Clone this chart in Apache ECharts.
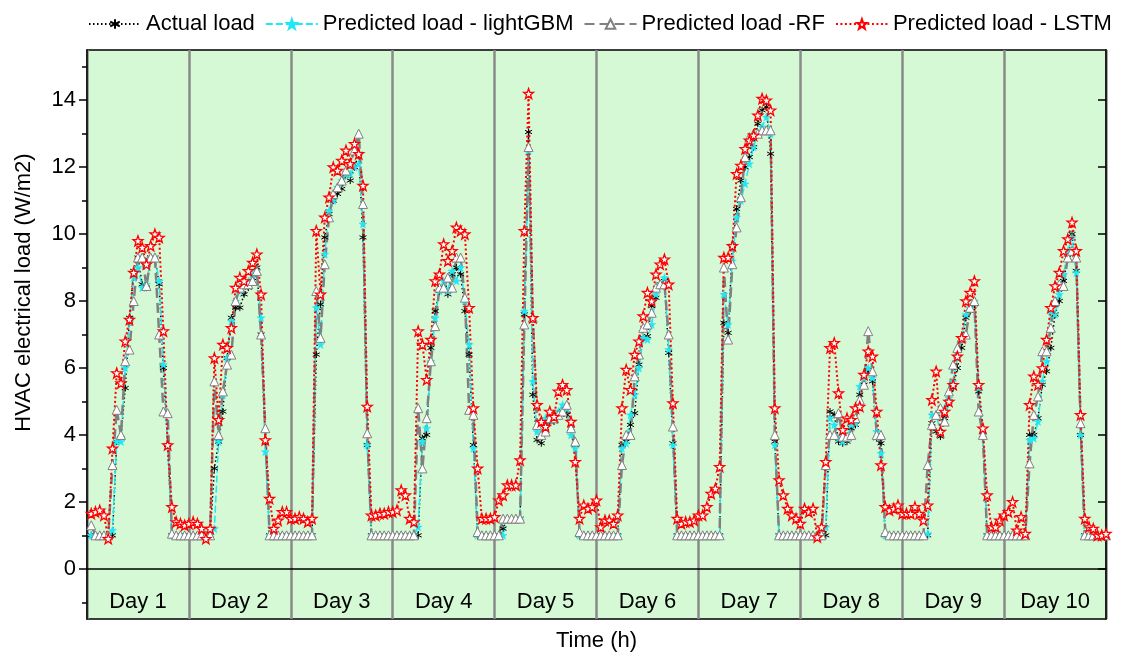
<!DOCTYPE html>
<html>
<head>
<meta charset="utf-8">
<script src="https://cdn.jsdelivr.net/npm/echarts@6/dist/echarts.min.js"></script>
<style>
html,body{margin:0;padding:0;background:#fff;}
#chart{width:1126px;height:657px;}
</style>
</head>
<body>
<div id="chart"></div>
<script>
// ---- data (hourly, 10 days x 24 h) ----
var dayLabels = ['Day 1','Day 2','Day 3','Day 4','Day 5','Day 6','Day 7','Day 8','Day 9','Day 10'];
var yMajorTicks = [0,2,4,6,8,10,12,14];
var yMinorTicks = [-1,1,3,5,7,9,11,13,15];

var actualLoad = [
1,1,1,1,1,1.0, 3.8,3.9,5.4,7.5,8.9,9.3, 8.5,8.4,9.3,9.3,8.5,6.0, 3.7,1,1,1,1,1,
1,1,1,1,1,3.0, 3.8,4.7,6.3,7.5,7.8,7.8, 8.2,8.4,8.6,9.0,7.0,3.8, 1,1,1,1,1,1,
1,1,1,1,1,6.4, 7.9,9.9,10.6,11.0,11.2,11.35, 11.8,11.6,12.0,12.4,9.9,3.7, 1,1,1,1,1,1,
1,1,1,1,1,1.0, 3.9,4.0,6.6,7.7,8.3,8.4, 8.2,8.8,9.0,8.8,7.7,6.4, 3.7,1,1,1,1,1,
1.0,1.2,1.5,1.5,1.5,1.5, 7.6,13.05,5.2,3.85,3.75,4.2, 4.4,4.4,4.6,4.7,4.6,4.2, 3.7,1,1,1,1,1,
1,1,1,1,1,3.7, 3.8,4.3,4.65,6.1,6.9,6.95, 7.85,8.1,8.5,8.6,6.45,3.75, 1,1,1,1,1,1,
1,1,1,1,1,7.35, 7.05,9.65,10.75,11.6,12.0,12.3, 12.6,13.3,13.7,13.8,12.4,3.8, 1,1,1,1,1,1,
1,1,1,1,1,1.0, 4.7,4.6,3.8,3.75,3.8,4.2, 4.3,5.2,5.5,5.95,5.6,3.9, 3.75,1,1,1,1,1,
1,1,1,1,1,1.0, 4.35,4.1,3.95,4.5,5.0,5.4, 6.0,6.6,7.5,7.7,7.9,5.3, 4.0,1,1,1,1,1,
1,1,1,1,1,4.0, 4.0,4.5,5.5,5.9,6.6,7.6, 8.0,8.6,9.3,10.0,8.9,4.0, 1,1,1,1,1,1
];

var lightGBM = [
1,1,1,1,1,1.15, 3.8,3.8,6.0,7.4,8.7,9.0, 8.4,8.5,9.3,9.3,8.6,6.1, 3.7,1,1,1,1,1,
1,1,1,1,1,1.2, 3.8,5.2,6.3,7.4,8.0,8.3, 8.5,8.6,8.8,8.9,7.5,3.5, 1,1,1,1,1,1,
1,1,1,1,1,7.8, 6.7,9.4,10.7,11.0,11.4,11.6, 11.8,11.8,12.0,12.1,10.3,3.7, 1,1,1,1,1,1,
1,1,1,1,1,1.25, 3.8,4.2,6.2,7.5,8.3,8.6, 8.3,8.9,8.6,9.0,8.0,6.7, 3.6,1,1,1,1,1,
1.0,1.0,1.5,1.5,1.5,1.5, 7.7,12.5,5.6,4.1,4.0,4.5, 4.6,4.5,4.7,4.9,4.8,4.0, 3.6,1,1,1,1,1,
1,1,1,1,1,3.6, 3.75,4.6,5.2,6.0,6.9,6.85, 7.3,8.2,8.5,8.7,6.55,3.7, 1,1,1,1,1,1,
1,1,1,1,1,8.2, 7.3,9.2,10.5,11.0,11.5,12.1, 12.6,13.0,13.2,13.5,13.0,3.7, 1,1,1,1,1,1,
1,1,1,1,1,1.25, 4.5,4.3,3.9,3.8,3.9,4.3, 4.35,5.45,5.7,6.0,5.7,4.1, 3.45,1,1,1,1,1,
1,1,1,1,1,1.05, 4.6,4.6,4.1,4.8,5.1,5.6, 6.3,6.9,7.6,7.8,8.0,5.4, 4.0,1,1,1,1,1,
1,1,1,1,1,3.85, 3.9,4.4,5.6,6.2,7.7,7.6, 8.2,8.8,9.5,9.9,8.85,4.0, 1,1,1,1,1,1
];

var randomForest = [
1.3,1,1,1,1,3.1, 4.75,4.0,6.2,6.55,8.0,9.3, 9.3,8.45,9.3,9.3,7.0,4.7, 4.65,1.05,1,1,1,1,
1,1,1,1,1,5.6, 4.0,5.3,6.1,6.4,8.0,8.4, 8.5,8.5,8.6,8.9,7.0,4.2, 1,1,1,1,1,1,
1,1,1,1,1,8.3, 6.9,9.1,10.5,11.2,11.4,11.6, 11.9,12.1,12.5,13.0,10.9,4.05, 1,1,1,1,1,1,
1,1,1,1,1,4.8, 3.0,4.5,6.2,7.25,8.4,8.4, 8.7,8.4,9.3,9.3,8.1,4.75, 4.6,1.1,1,1,1,1,
1.0,1.5,1.5,1.5,1.5,1.5, 7.3,12.6,7.5,4.3,4.0,4.1, 4.5,4.5,4.6,4.7,4.9,4.2, 3.8,1.1,1,1,1,1,
1,1,1,1,1,3.1, 4.0,4.0,5.75,6.4,7.2,7.3, 7.65,8.4,8.5,8.5,7.0,4.25, 1,1,1,1,1,1,
1,1,1,1,1,9.0, 6.85,9.1,10.2,11.1,12.3,12.9, 13.0,13.0,13.1,13.1,13.1,4.0, 1,1,1,1,1,1,
1,1,1,1,1,3.1, 4.0,4.0,4.65,3.95,3.95,4.0, 4.5,5.05,5.5,7.1,5.9,4.0, 4.0,1.1,1,1,1,1,
1,1,1,1,1,3.1, 4.3,4.6,4.8,4.4,5.3,6.1, 6.6,6.9,7.0,7.8,8.0,4.7, 4.0,1,1,1,1,1,
1,1,1,1,1,3.15, 4.6,5.15,6.5,6.5,7.2,8.0, 8.5,8.45,9.3,9.5,9.3,4.35, 1,1,1,1,1,1
];

var lstm = [
1.65,1.7,1.75,1.6,0.9,3.6, 5.85,5.55,6.8,7.45,8.85,9.8, 9.6,9.1,9.65,10.0,9.9,7.1, 3.7,1.85,1.4,1.35,1.3,1.35,
1.4,1.35,1.2,0.9,1.2,6.3, 4.45,6.7,6.6,7.2,8.4,8.7, 8.6,8.9,9.15,9.4,8.2,3.85, 2.1,1.2,1.45,1.7,1.7,1.5,
1.5,1.55,1.5,1.4,1.5,10.1, 8.2,10.5,11.1,12.0,11.9,12.2, 12.5,12.1,12.7,12.4,11.45,4.85, 1.6,1.6,1.65,1.65,1.7,1.7,
1.75,2.35,2.2,1.5,1.4,7.1, 6.7,5.65,6.85,8.6,8.8,9.7, 9.2,9.5,10.2,10.1,10.0,7.8, 4.8,3.0,1.5,1.5,1.5,1.55,
2.05,2.2,2.5,2.5,2.5,3.25, 10.1,14.2,7.5,4.9,4.4,4.25, 4.7,4.55,5.3,5.5,5.35,4.4, 3.2,1.5,1.9,1.8,1.85,2.05,
1.25,1.45,1.45,1.35,1.6,4.8, 5.95,5.35,6.4,6.8,7.55,8.25, 8.0,8.8,9.1,9.25,8.5,4.95, 1.5,1.35,1.4,1.4,1.45,1.6,
1.6,1.85,2.25,2.4,3.05,9.3, 9.3,9.65,11.8,12.05,12.55,12.8, 12.95,13.55,14.05,14.0,13.7,4.8, 2.65,2.2,1.8,1.6,1.5,1.35,
1.8,1.7,1.8,0.95,1.25,3.2, 6.6,6.75,5.25,4.15,4.5,4.45, 4.8,4.85,5.8,6.5,6.35,4.7, 3.1,1.85,1.75,1.8,1.9,1.65,
1.65,1.65,1.85,1.65,1.45,1.9, 5.05,5.9,4.1,4.7,5.0,5.5, 6.35,6.9,8.0,8.25,8.6,5.5, 4.2,2.2,1.25,1.25,1.45,1.6,
1.7,2.0,1.15,1.55,1.05,4.9, 5.75,5.5,6.0,6.85,7.8,8.45, 8.85,9.5,9.85,10.35,9.5,4.6, 1.5,1.25,1.2,1.0,1.0,1.05
];

var seriesNames = ['Actual load','Predicted load - lightGBM','Predicted load -RF','Predicted load - LSTM'];

// ---- chart ----
var FONT = 'Arial, "Liberation Sans", sans-serif';
var STAR = 'path://M10,0L12.35,6.76L19.51,6.91L13.8,11.24L15.88,18.09L10,14L4.12,18.09L6.2,11.24L0.49,6.91L7.65,6.76Z';
var ASTER = 'path://M5,0L5,10M0.67,2.5L9.33,7.5M0.67,7.5L9.33,2.5';

function toXY(arr){ return arr.map(function(v,i){ return [i+1, v]; }); }

var chart = echarts.init(document.getElementById('chart'), null, {renderer:'canvas'});
var yBase = {type:'value', min:-1.5, max:15.5, splitLine:{show:false}};

chart.setOption({
  animation:false,
  textStyle:{fontFamily:FONT},
  legend:{
    data:seriesNames, left:83, top:8, itemWidth:52, itemHeight:12, itemGap:10,
    textStyle:{fontSize:22, color:'#000', fontFamily:FONT}
  },
  grid:{left:87, right:20, top:50, bottom:35, show:true, backgroundColor:'#d5f9d5',
        borderColor:'#000', borderWidth:1.5},
  xAxis:[
    {type:'value', min:0, max:240, interval:24,
     axisLine:{show:true, lineStyle:{color:'#000', width:1.5}},
     axisTick:{show:false}, axisLabel:{show:false},
     splitLine:{show:true, lineStyle:{color:'#8a8a8a', width:2.5}},
     name:'Time (h)', nameLocation:'middle', nameGap:11,
     nameTextStyle:{fontSize:22, color:'#000', fontFamily:FONT}},
    {type:'category', data:dayLabels, position:'bottom', boundaryGap:true,
     axisLine:{show:false}, axisTick:{show:false}, splitLine:{show:false},
     axisLabel:{inside:true, margin:6, fontSize:22, color:'#000', fontFamily:FONT}}
  ],
  yAxis:[
    Object.assign({}, yBase, {position:'left',
      axisLine:{show:true, lineStyle:{color:'#000', width:1.5}},
      axisTick:{show:true, length:8, customValues:yMajorTicks, lineStyle:{color:'#000', width:1.5}},
      axisLabel:{show:true, customValues:yMajorTicks, fontSize:22, color:'#000', margin:11, fontFamily:FONT},
      name:'HVAC electrical load (W/m2)', nameLocation:'middle', nameGap:52,
      nameTextStyle:{fontSize:22, color:'#000', fontFamily:FONT, padding:[0,0,0,84]}}),
    Object.assign({}, yBase, {position:'left',
      axisLine:{show:false},
      axisTick:{show:true, length:5, customValues:yMinorTicks, lineStyle:{color:'#000', width:1.5}},
      axisLabel:{show:false}}),
    Object.assign({}, yBase, {position:'right',
      axisLine:{show:true, lineStyle:{color:'#000', width:1.5}},
      axisTick:{show:true, inside:true, length:8, customValues:yMajorTicks, lineStyle:{color:'#000', width:1.5}},
      axisLabel:{show:false}})
  ],
  series:[
    {name:seriesNames[0], type:'line', data:toXY(actualLoad), symbol:ASTER, symbolSize:7,
     itemStyle:{color:'#000', borderColor:'#000', borderWidth:1},
     lineStyle:{color:'#000', width:1.5, type:[1.5,2.5]}},
    {name:seriesNames[1], type:'line', data:toXY(lightGBM), symbol:STAR, symbolSize:8,
     itemStyle:{color:'#1ee8f5', borderColor:'#1ee8f5', borderWidth:0.5},
     lineStyle:{color:'#1ee8f5', width:1.5, type:[7,3]}},
    {name:seriesNames[2], type:'line', data:toXY(randomForest), symbol:'triangle', symbolSize:9,
     itemStyle:{color:'#ffffff', borderColor:'#808080', borderWidth:1},
     lineStyle:{color:'#808080', width:2.5, type:[10,5]}},
    {name:seriesNames[3], type:'line', data:toXY(lstm), symbol:STAR, symbolSize:10,
     itemStyle:{color:'#ffffff', borderColor:'#ff0000', borderWidth:1.3},
     lineStyle:{color:'#ff0000', width:2, type:[2,2.5]}}
  ]
});
</script>
</body>
</html>
